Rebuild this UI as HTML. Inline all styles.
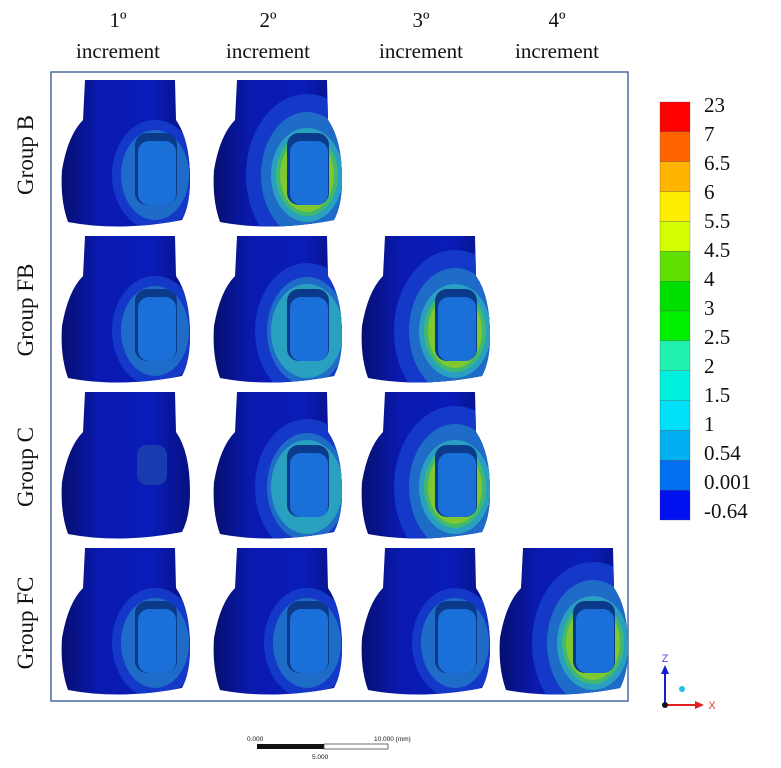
<!DOCTYPE html>
<html><head><meta charset="utf-8"><style>
body{margin:0;background:#fff;width:781px;height:768px;overflow:hidden;font-family:"Liberation Serif",serif}
svg{display:block}
</style></head><body>
<svg id="fig" width="781" height="768" viewBox="0 0 781 768" xmlns="http://www.w3.org/2000/svg">
<defs>
<linearGradient id="toothGrad" x1="0" x2="1" y1="0" y2="0">
<stop offset="0" stop-color="#060f70"/><stop offset="0.3" stop-color="#0a1ab0"/><stop offset="0.7" stop-color="#0a1cb8"/><stop offset="1" stop-color="#061080"/>
</linearGradient>
</defs>
<g font-size="21" fill="#111" text-anchor="middle">
<text x="118" y="27">1º</text><text x="118" y="58">increment</text>
<text x="268" y="27">2º</text><text x="268" y="58">increment</text>
<text x="421" y="27">3º</text><text x="421" y="58">increment</text>
<text x="557" y="27">4º</text><text x="557" y="58">increment</text>
</g>
<rect x="51" y="72" width="577" height="629" fill="none" stroke="#4a6aa0" stroke-width="1.5"/>
<g font-size="23" fill="#111" text-anchor="middle">
<text transform="translate(33,155) rotate(-90)">Group B</text>
<text transform="translate(33,310) rotate(-90)">Group FB</text>
<text transform="translate(33,467) rotate(-90)">Group C</text>
<text transform="translate(33,623) rotate(-90)">Group FC</text>
</g>
<g id="teeth"></g>
<g id="legend"></g>
<g>
<line x1="665" y1="705" x2="665" y2="672" stroke="#1020d0" stroke-width="2"/>
<polygon points="661,674 669,674 665,665" fill="#1020d0"/>
<line x1="665" y1="705" x2="697" y2="705" stroke="#e02020" stroke-width="2"/>
<polygon points="695,701 695,709 704,705" fill="#e02020"/>
<circle cx="665" cy="705" r="3" fill="#111"/>
<circle cx="682" cy="689" r="3" fill="#20c0e0"/>
<text x="665" y="662" font-family="Liberation Sans" font-size="11" fill="#5050e0" text-anchor="middle">Z</text>
<text x="712" y="709" font-family="Liberation Sans" font-size="11" fill="#e04040" text-anchor="middle">X</text>
</g>
<g font-family="Liberation Sans" font-size="6.5" fill="#111">
<text x="247" y="741">0.000</text>
<text x="374" y="741">10.000 (mm)</text>
<rect x="257" y="744" width="67" height="5" fill="#111"/>
<rect x="324" y="744" width="64" height="5" fill="#fff" stroke="#333" stroke-width="0.7"/>
<text x="312" y="759">5.000</text>
</g>
</svg>
<script>
const legendLabels=["23","7","6.5","6","5.5","4.5","4","3","2.5","2","1.5","1","0.54","0.001","-0.64"];
const legendColors=["#ff0000","#ff6400","#ffb400","#ffee00","#d4ff00","#60e000","#00e000","#00f000","#20f0b0","#00f0e0","#00e0f8","#00b0f0","#0070f0","#0010f0"];
// stress level per tooth (0=low, 3=high); null = no model
const rowNames=["Group B","Group FB","Group C","Group FC"];
const stressLevels=[[1,3,null,null],[1,2,3,null],[0,2,3,null],[1,1,1,3]];
const NS="http://www.w3.org/2000/svg";
function mk(t,a,p){const e=document.createElementNS(NS,t);for(const k in a)e.setAttribute(k,a[k]);p.appendChild(e);return e;}
const lg=document.getElementById('legend');
const ly0=102,ly1=520,bh=(ly1-ly0)/legendColors.length;
legendColors.forEach((c,i)=>{const r=mk('rect',{x:660,y:ly0+i*bh,width:30,height:bh,fill:c,stroke:'#555','stroke-width':0.3},lg);

});
legendLabels.forEach((l,i)=>{const t=mk('text',{x:704,y:ly0+i*((ly1-ly0-12)/ (legendLabels.length-1))+10,'font-size':21,fill:'#111'},lg);t.textContent=l;

});
const colX=[120,272,420,558], rowY=[80,236,392,548];
const tg=document.getElementById('teeth');
stressLevels.forEach((row,ri)=>row.forEach((lv,ci)=>{
 if(lv===null)return;
 const cx=colX[ci],y=rowY[ri];
 const g=mk('g',{},tg);
 
 
 const d=`M${cx-35},${y} L${cx+55},${y} L${cx+56},${y+40} Q${cx+70},${y+60} ${cx+70},${y+100} Q${cx+70},${y+125} ${cx+62},${y+140} Q${cx},${y+152} ${cx-52},${y+142} Q${cx-60},${y+120} ${cx-58},${y+90} Q${cx-52},${y+55} ${cx-37},${y+40} Z`;
 mk('path',{d:d,fill:'url(#toothGrad)'},g);
 const clip=mk('clipPath',{id:'c'+ri+ci},g);mk('path',{d:d},clip);
 const inner=mk('g',{'clip-path':'url(#c'+ri+ci+')'},g);
 const ox=cx+35,oy=y+95;
 if(lv>=1){mk('ellipse',{cx:ox,cy:oy,rx:34+lv*9,ry:42+lv*13,fill:'#1438c8'},inner);
  mk('ellipse',{cx:ox,cy:oy,rx:28+lv*6,ry:36+lv*9,fill:'#1f6cc8'},inner);}
 if(lv>=2){mk('ellipse',{cx:ox,cy:oy,rx:36,ry:47,fill:'#2aa0c0'},inner);}
 if(lv>=3){mk('ellipse',{cx:ox,cy:oy,rx:31,ry:41,fill:'#40b870'},inner);
  mk('ellipse',{cx:ox,cy:oy,rx:27,ry:37,fill:'#80c830'},inner);}
 if(lv==0){mk('rect',{x:ox-18,y:oy-42,width:30,height:40,rx:10,fill:'#1a3ab0'},inner);}
 else{mk('rect',{x:ox-20,y:oy-42,width:42,height:72,rx:12,fill:'#0c3a8a'},inner);
  mk('rect',{x:ox-17,y:oy-34,width:38,height:64,rx:11,fill:'#1a70d8'},inner);}
}));
</script>
</body></html>
